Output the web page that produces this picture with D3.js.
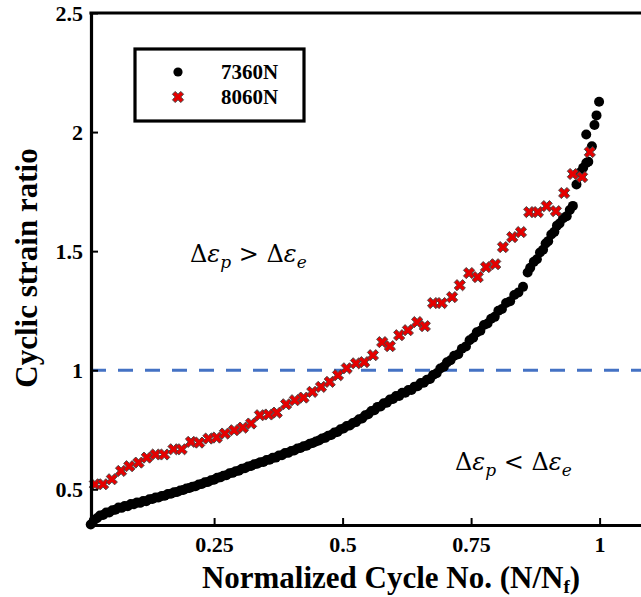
<!DOCTYPE html>
<html>
<head>
<meta charset="utf-8">
<script src="https://cdn.jsdelivr.net/npm/d3@7"></script>
<style>
  body { margin: 0; background: #fff; }
  svg { display: block; }
  .axis path, .axis line { stroke: #000; }
  .axis text { font-family: 'Liberation Serif', 'Times New Roman', serif; font-weight: bold; font-size: 22px; fill: #000; }
</style>
</head>
<body>
<div id="chart"></div>
<script>
// 7360N series [N/Nf, ratio]
const series_7360 = [
    [0.010, 0.352], [0.016, 0.370], [0.022, 0.378], [0.028, 0.390], [0.034, 0.392], [0.040, 0.402],
    [0.046, 0.403], [0.052, 0.412], [0.058, 0.414], [0.064, 0.423], [0.070, 0.422], [0.076, 0.430],
    [0.082, 0.429], [0.088, 0.438], [0.094, 0.437], [0.100, 0.445], [0.106, 0.443], [0.112, 0.451],
    [0.118, 0.450], [0.124, 0.458], [0.130, 0.459], [0.136, 0.465], [0.142, 0.466], [0.148, 0.472],
    [0.154, 0.473], [0.160, 0.480], [0.166, 0.481], [0.172, 0.487], [0.178, 0.489], [0.184, 0.495],
    [0.190, 0.497], [0.196, 0.503], [0.202, 0.505], [0.208, 0.511], [0.214, 0.513], [0.220, 0.520],
    [0.226, 0.522], [0.232, 0.529], [0.238, 0.531], [0.244, 0.538], [0.250, 0.540], [0.256, 0.548],
    [0.262, 0.550], [0.268, 0.557], [0.274, 0.559], [0.280, 0.567], [0.286, 0.569], [0.292, 0.576],
    [0.298, 0.578], [0.304, 0.586], [0.310, 0.588], [0.316, 0.596], [0.322, 0.598], [0.328, 0.605],
    [0.334, 0.607], [0.340, 0.614], [0.346, 0.615], [0.352, 0.623], [0.358, 0.624], [0.364, 0.632],
    [0.370, 0.633], [0.376, 0.642], [0.382, 0.643], [0.388, 0.652], [0.394, 0.653], [0.400, 0.661],
    [0.406, 0.663], [0.412, 0.671], [0.418, 0.673], [0.424, 0.681], [0.430, 0.683], [0.436, 0.691],
    [0.442, 0.694], [0.448, 0.701], [0.454, 0.705], [0.460, 0.713], [0.466, 0.716], [0.472, 0.725],
    [0.478, 0.728], [0.484, 0.738], [0.490, 0.741], [0.496, 0.752], [0.502, 0.755], [0.508, 0.766],
    [0.514, 0.768], [0.520, 0.778], [0.526, 0.782], [0.532, 0.794], [0.538, 0.797], [0.544, 0.811],
    [0.550, 0.815], [0.556, 0.829], [0.562, 0.832], [0.568, 0.846], [0.574, 0.848], [0.580, 0.861],
    [0.586, 0.863], [0.592, 0.877], [0.598, 0.879], [0.604, 0.892], [0.610, 0.892], [0.616, 0.905],
    [0.622, 0.905], [0.628, 0.917], [0.634, 0.917], [0.640, 0.931], [0.646, 0.933], [0.652, 0.946],
    [0.658, 0.947], [0.664, 0.960], [0.670, 0.963], [0.676, 0.980], [0.683, 0.987], [0.690, 1.007],
    [0.697, 1.015], [0.703, 1.033], [0.710, 1.042], [0.717, 1.061], [0.725, 1.067], [0.732, 1.090],
    [0.740, 1.100], [0.747, 1.126], [0.754, 1.136], [0.761, 1.159], [0.768, 1.166], [0.775, 1.190],
    [0.782, 1.196], [0.789, 1.216], [0.796, 1.224], [0.803, 1.250], [0.810, 1.257], [0.818, 1.282],
    [0.826, 1.290], [0.834, 1.316], [0.842, 1.326], [0.851, 1.350], [0.860, 1.410], [0.865, 1.430],
    [0.872, 1.455], [0.878, 1.466], [0.884, 1.494], [0.890, 1.506], [0.895, 1.532], [0.900, 1.542],
    [0.906, 1.570], [0.912, 1.581], [0.917, 1.607], [0.922, 1.616], [0.929, 1.638], [0.936, 1.647],
    [0.942, 1.673], [0.948, 1.690], [0.955, 1.780], [0.962, 1.830], [0.968, 1.850], [0.974, 1.870],
    [0.978, 1.875], [0.985, 1.940], [0.974, 1.990], [0.990, 2.030], [0.994, 2.070], [0.999, 2.127]
];

// 8060N series [N/Nf, ratio]
const series_8060 = [
    [0.018, 0.521], [0.034, 0.521], [0.051, 0.542], [0.069, 0.577], [0.085, 0.597], [0.103, 0.612],
    [0.119, 0.633], [0.136, 0.646], [0.153, 0.646], [0.171, 0.668], [0.187, 0.668], [0.205, 0.699],
    [0.221, 0.696], [0.239, 0.713], [0.255, 0.717], [0.271, 0.734], [0.289, 0.748], [0.306, 0.759],
    [0.322, 0.776], [0.339, 0.811], [0.356, 0.814], [0.372, 0.822], [0.390, 0.857], [0.407, 0.874],
    [0.424, 0.885], [0.441, 0.909], [0.458, 0.930], [0.475, 0.951], [0.491, 0.979], [0.508, 1.008],
    [0.526, 1.029], [0.542, 1.034], [0.559, 1.063], [0.577, 1.118], [0.592, 1.101], [0.610, 1.147],
    [0.627, 1.168], [0.645, 1.202], [0.660, 1.185], [0.676, 1.282], [0.693, 1.282], [0.713, 1.307],
    [0.728, 1.357], [0.746, 1.408], [0.763, 1.391], [0.779, 1.433], [0.797, 1.445], [0.812, 1.517],
    [0.830, 1.559], [0.847, 1.580], [0.863, 1.664], [0.880, 1.664], [0.897, 1.689], [0.915, 1.668],
    [0.931, 1.744], [0.948, 1.824], [0.966, 1.811], [0.981, 1.916]
];

const x_ticks = [0.25, 0.5, 0.75, 1];
const y_ticks = [0.5, 1, 1.5, 2, 2.5];
const legend_labels = ['7360N', '8060N'];
const threshold = 1;

const chart_width = 641;
const chart_height = 597;
const font = "'Liberation Serif', 'Times New Roman', serif";

const svg = d3.select('#chart')
    .append('svg')
    .attr('width', chart_width)
    .attr('height', chart_height);

// Scales
const x_scale = d3.scaleLinear()
    .domain([0.0105, 1.12])
    .range([91, 91 + 514 * (1.12 - 0.0105)]);

const y_scale = d3.scaleLinear()
    .domain([0.35, 2.5])
    .range([525, 13]);

// Dashed threshold line
svg.append('line')
    .attr('x1', x_scale(0.0105))
    .attr('x2', chart_width)
    .attr('y1', y_scale(threshold))
    .attr('y2', y_scale(threshold))
    .attr('stroke', '#4472c4')
    .attr('stroke-width', 3)
    .attr('stroke-dasharray', '15 12');

// Series 7360N
svg.append('g')
    .selectAll('circle')
    .data(series_7360)
    .enter()
    .append('circle')
    .attr('cx', d => x_scale(d[0]))
    .attr('cy', d => y_scale(d[1]))
    .attr('r', 5)
    .attr('fill', '#000');

// Series 8060N
const cross = d3.symbol().type(d3.symbolCross).size(78);
svg.append('g')
    .selectAll('path')
    .data(series_8060)
    .enter()
    .append('path')
    .attr('d', cross)
    .attr('transform', d => `translate(${x_scale(d[0])}, ${y_scale(d[1])}) rotate(45)`)
    .attr('fill', '#e60000')
    .attr('stroke', '#444')
    .attr('stroke-width', 0.9);

// Axes
const x_axis = d3.axisBottom(x_scale)
    .tickValues(x_ticks)
    .tickFormat(d3.format('~g'))
    .tickSize(-7)
    .tickSizeOuter(0)
    .tickPadding(11);

svg.append('g')
    .classed('axis', true)
    .attr('transform', `translate(0, ${y_scale.range()[0]})`)
    .call(x_axis)
    .call(g => g.select('.domain').attr('stroke-width', 3.2))
    .call(g => g.selectAll('.tick line').attr('stroke-width', 2));

const y_axis = d3.axisLeft(y_scale)
    .tickValues(y_ticks)
    .tickFormat(d3.format('~g'))
    .tickSize(-7)
    .tickSizeOuter(0)
    .tickPadding(8);

svg.append('g')
    .classed('axis', true)
    .attr('transform', `translate(${x_scale.range()[0]}, 0)`)
    .call(y_axis)
    .call(g => g.select('.domain').attr('stroke-width', 3.2))
    .call(g => g.selectAll('.tick line').attr('stroke-width', 2));

// Top frame line
svg.append('line')
    .attr('x1', x_scale.range()[0] - 1.6)
    .attr('x2', chart_width + 5)
    .attr('y1', y_scale(2.5))
    .attr('y2', y_scale(2.5))
    .attr('stroke', '#000')
    .attr('stroke-width', 3.2);

// Axis titles
svg.append('text')
    .attr('transform', 'translate(30, 268) rotate(-90)')
    .attr('text-anchor', 'middle')
    .attr('dominant-baseline', 'middle')
    .style('font-family', font)
    .style('font-weight', 'bold')
    .style('font-size', '31px')
    .text('Cyclic strain ratio');

const x_title = svg.append('text')
    .attr('x', 391)
    .attr('y', 588)
    .attr('text-anchor', 'middle')
    .style('font-family', font)
    .style('font-weight', 'bold')
    .style('font-size', '31px');
x_title.append('tspan').text('Normalized Cycle No. (N/N');
x_title.append('tspan').attr('font-size', '19px').attr('dy', 5).text('f');
x_title.append('tspan').attr('dy', -5).text(')');

// Region annotations
function annotate(x, y, op) {
    const t = svg.append('text')
        .attr('x', x)
        .attr('y', y)
        .style('font-family', "'DejaVu Serif', 'Liberation Serif', serif")
        .style('font-size', '24px');
    t.append('tspan').text('Δ');
    t.append('tspan').style('font-style', 'italic').text('ε');
    t.append('tspan').style('font-style', 'italic').attr('font-size', '17px').attr('dy', 6).text('p');
    t.append('tspan').attr('dy', -6).text(` ${op} Δ`);
    t.append('tspan').style('font-style', 'italic').text('ε');
    t.append('tspan').style('font-style', 'italic').attr('font-size', '17px').attr('dy', 6).text('e');
}
annotate(190, 262, '>');
annotate(455, 470, '<');

// Legend
const legend = svg.append('g');
legend.append('rect')
    .attr('x', 135)
    .attr('y', 49)
    .attr('width', 169)
    .attr('height', 72)
    .attr('fill', '#fff')
    .attr('stroke', '#000')
    .attr('stroke-width', 3.2);

legend.append('circle')
    .attr('cx', 178)
    .attr('cy', 72)
    .attr('r', 4.6)
    .attr('fill', '#000');

legend.append('path')
    .attr('d', cross)
    .attr('transform', 'translate(178, 97) rotate(45)')
    .attr('fill', '#e60000')
    .attr('stroke', '#444')
    .attr('stroke-width', 0.9);

legend.selectAll('text')
    .data(legend_labels)
    .enter()
    .append('text')
    .attr('x', 221)
    .attr('y', (d, i) => 72 + i * 25)
    .attr('dominant-baseline', 'central')
    .style('font-family', font)
    .style('font-weight', 'bold')
    .style('font-size', '21px')
    .text(d => d);
</script>
</body>
</html>
